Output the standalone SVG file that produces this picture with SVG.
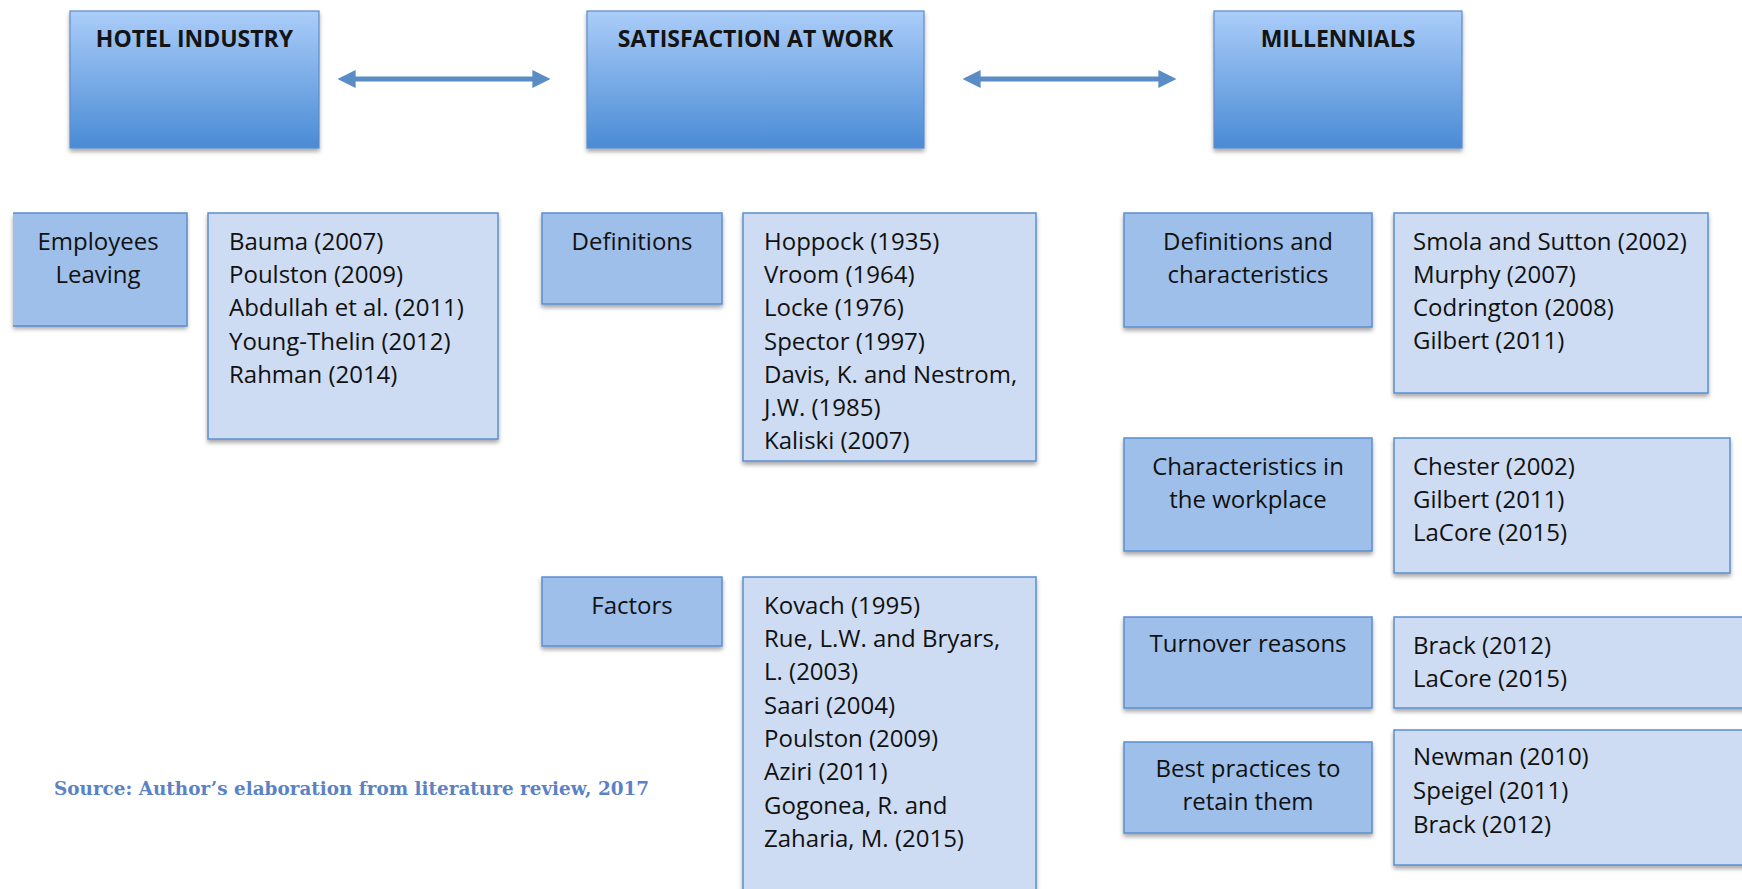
<svg xmlns="http://www.w3.org/2000/svg" width="1742" height="889" viewBox="0 0 1742 889">
<style>
.hdr{fill:url(#hg);stroke:#5a8ccc;stroke-width:1.2;filter:url(#sh)}
.cat{fill:#9dbfe9;stroke:#5b8fd0;stroke-width:1.5;filter:url(#sh)}
.ref{fill:#cddcf2;stroke:#5b8fd0;stroke-width:1.5;filter:url(#sh)}
.ttl{font-family:"Open Sans","DejaVu Sans",sans-serif;font-weight:bold;font-size:23px;fill:#141414;text-anchor:middle}
.ct{font-family:"Open Sans","DejaVu Sans",sans-serif;font-size:24px;fill:#111111;text-anchor:middle}
.rt{font-family:"Open Sans","DejaVu Sans",sans-serif;font-size:24px;fill:#111111}
.src{font-family:"DejaVu Serif","Liberation Serif",serif;font-weight:bold;font-size:18.4px;fill:#5a82c4}
.arr{stroke:#5a8cc6;stroke-width:5;fill:none;marker-start:url(#ah);marker-end:url(#ah)}
</style>
<defs>
<linearGradient id="hg" x1="0" y1="0" x2="0" y2="1">
<stop offset="0" stop-color="#abcdf9"/>
<stop offset="1" stop-color="#4a8bd5"/>
</linearGradient>
<filter id="sh" x="-10%" y="-10%" width="120%" height="130%">
<feDropShadow dx="0" dy="3" stdDeviation="2" flood-color="#000" flood-opacity="0.35"/>
</filter>
<marker id="ah" viewBox="0 0 10 10" refX="2" refY="5" markerWidth="3.6" markerHeight="4.6" orient="auto-start-reverse" markerUnits="strokeWidth">
<path d="M0,0 L10,5 L0,10 Z" fill="#5a8cc6"/>
</marker>
</defs>
<rect width="1742" height="889" fill="#ffffff"/>

<g id="connectors">
<line class="arr" x1="352" y1="79" x2="536" y2="79"/>
<line class="arr" x1="977" y1="79" x2="1162" y2="79"/>
</g>

<g id="hotel-industry">
<rect class="hdr" x="70" y="11" width="249" height="137"/>
<text class="ttl" x="194.5" y="47">HOTEL INDUSTRY</text>
</g>
<g id="satisfaction-at-work">
<rect class="hdr" x="587" y="11" width="337" height="137"/>
<text class="ttl" x="755.5" y="47">SATISFACTION AT WORK</text>
</g>
<g id="millennials">
<rect class="hdr" x="1214" y="11" width="248" height="137"/>
<text class="ttl" x="1338" y="47">MILLENNIALS</text>
</g>

<g id="employees-leaving">
<rect x="13" y="213" width="174" height="113" fill="#9dbfe9" filter="url(#sh)"/>
<path d="M13,213 H187 V326 H13" fill="none" stroke="#5b8fd0" stroke-width="1.5"/>
<text class="ct" x="98" y="250">Employees</text>
<text class="ct" x="98" y="283">Leaving</text>
</g>
<g id="hotel-refs">
<rect class="ref" x="208" y="213" width="290" height="226"/>
<text class="rt" x="229" y="250">Bauma (2007)</text>
<text class="rt" x="229" y="283">Poulston (2009)</text>
<text class="rt" x="229" y="316">Abdullah et al. (2011)</text>
<text class="rt" x="229" y="350">Young-Thelin (2012)</text>
<text class="rt" x="229" y="383">Rahman (2014)</text>
</g>

<g id="definitions">
<rect class="cat" x="542" y="213" width="180" height="91"/>
<text class="ct" x="632" y="250">Definitions</text>
</g>
<g id="definitions-refs">
<rect class="ref" x="743" y="213" width="293" height="248"/>
<text class="rt" x="764" y="250">Hoppock (1935)</text>
<text class="rt" x="764" y="283">Vroom (1964)</text>
<text class="rt" x="764" y="316">Locke (1976)</text>
<text class="rt" x="764" y="350">Spector (1997)</text>
<text class="rt" x="764" y="383">Davis, K. and Nestrom,</text>
<text class="rt" x="764" y="416">J.W. (1985)</text>
<text class="rt" x="764" y="449">Kaliski (2007)</text>
</g>

<g id="factors">
<rect class="cat" x="542" y="577" width="180" height="69"/>
<text class="ct" x="632" y="614">Factors</text>
</g>
<g id="factors-refs">
<rect class="ref" x="743" y="577" width="293" height="330"/>
<text class="rt" x="764" y="614">Kovach (1995)</text>
<text class="rt" x="764" y="647">Rue, L.W. and Bryars,</text>
<text class="rt" x="764" y="680">L. (2003)</text>
<text class="rt" x="764" y="714">Saari (2004)</text>
<text class="rt" x="764" y="747">Poulston (2009)</text>
<text class="rt" x="764" y="780">Aziri (2011)</text>
<text class="rt" x="764" y="814">Gogonea, R. and</text>
<text class="rt" x="764" y="847">Zaharia, M. (2015)</text>
</g>

<g id="definitions-characteristics">
<rect class="cat" x="1124" y="213" width="248" height="114"/>
<text class="ct" x="1248" y="250">Definitions and</text>
<text class="ct" x="1248" y="283">characteristics</text>
</g>
<g id="definitions-characteristics-refs">
<rect class="ref" x="1394" y="213" width="314" height="180"/>
<text class="rt" x="1413" y="250">Smola and Sutton (2002)</text>
<text class="rt" x="1413" y="283">Murphy (2007)</text>
<text class="rt" x="1413" y="316">Codrington (2008)</text>
<text class="rt" x="1413" y="349">Gilbert (2011)</text>
</g>

<g id="characteristics-workplace">
<rect class="cat" x="1124" y="438" width="248" height="113"/>
<text class="ct" x="1248" y="475">Characteristics in</text>
<text class="ct" x="1248" y="508">the workplace</text>
</g>
<g id="characteristics-workplace-refs">
<rect class="ref" x="1394" y="438" width="336" height="135"/>
<text class="rt" x="1413" y="475">Chester (2002)</text>
<text class="rt" x="1413" y="508">Gilbert (2011)</text>
<text class="rt" x="1413" y="541">LaCore (2015)</text>
</g>

<g id="turnover-reasons">
<rect class="cat" x="1124" y="617" width="248" height="91"/>
<text class="ct" x="1248" y="652">Turnover reasons</text>
</g>
<g id="turnover-reasons-refs">
<rect class="ref" x="1394" y="617" width="360" height="91"/>
<text class="rt" x="1413" y="654">Brack (2012)</text>
<text class="rt" x="1413" y="687">LaCore (2015)</text>
</g>

<g id="best-practices">
<rect class="cat" x="1124" y="742" width="248" height="91"/>
<text class="ct" x="1248" y="777">Best practices to</text>
<text class="ct" x="1248" y="810">retain them</text>
</g>
<g id="best-practices-refs">
<rect class="ref" x="1394" y="730" width="360" height="135"/>
<text class="rt" x="1413" y="765">Newman (2010)</text>
<text class="rt" x="1413" y="799">Speigel (2011)</text>
<text class="rt" x="1413" y="833">Brack (2012)</text>
</g>

<text class="src" x="54" y="795">Source: Author’s elaboration from literature review, 2017</text>
</svg>
